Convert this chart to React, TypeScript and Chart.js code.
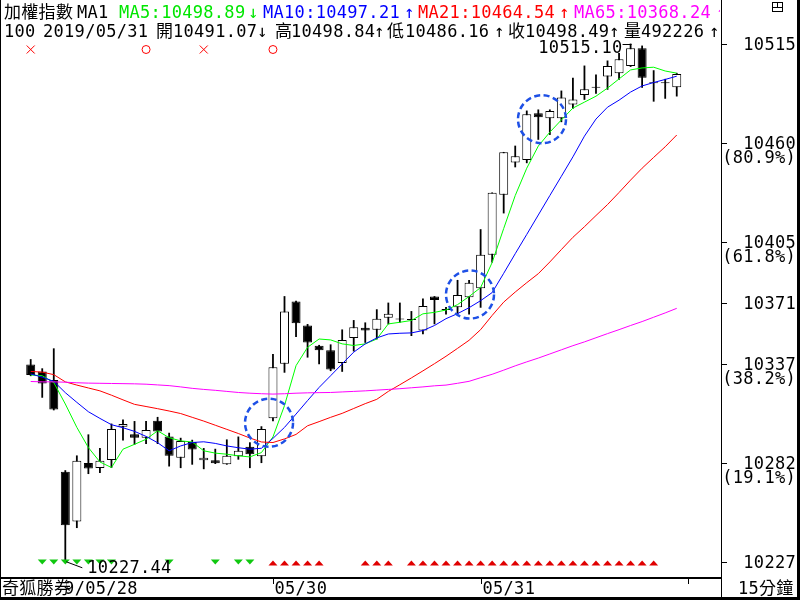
import React, { useEffect, useRef } from 'react';
import { Chart, registerables } from 'chart.js';

Chart.register(...registerables);

// ---------- data (15-minute bars, index 0..56) ----------
const opens = [
  10337.0, 10333.1, 10328.4, 10277.4, 10249.8, 10282.3, 10279.5, 10284.0, 10302.5, 10298.3,
  10296.4, 10305.8, 10297.0, 10285.3, 10294.0, 10283.8, 10283.8, 10281.6, 10286.1, 10291.3,
  10286.1, 10307.2, 10337.4, 10372.0, 10358.7, 10347.5, 10344.9, 10337.9, 10351.8, 10357.4,
  10356.3, 10363.0, 10362.1, 10361.8, 10355.9, 10374.8, 10367.3, 10368.8, 10374.4, 10379.4,
  10398.0, 10431.3, 10449.3, 10450.6, 10476.6, 10473.8, 10473.8, 10481.5, 10486.7, 10490.8,
  10497.0, 10498.9, 10502.9, 10512.7, 10493.3, 10493.3, 10491.07,
];
const highs = [
  10339.8, 10334.7, 10345.8, 10278.1, 10286.3, 10298.0, 10290.4, 10304.0, 10306.2, 10305.4,
  10305.4, 10307.7, 10298.9, 10296.1, 10295.0, 10290.4, 10290.0, 10295.2, 10296.8, 10293.6,
  10302.5, 10342.6, 10374.8, 10372.2, 10359.3, 10347.7, 10348.0, 10356.3, 10361.5, 10360.2,
  10367.5, 10371.2, 10371.2, 10366.5, 10373.5, 10374.8, 10368.7, 10383.8, 10383.8, 10412.0,
  10432.4, 10454.9, 10458.4, 10477.9, 10478.5, 10478.5, 10489.0, 10496.1, 10502.9, 10497.9,
  10505.7, 10509.9, 10515.10, 10514.0, 10500.3, 10495.5, 10498.84,
];
const lows = [
  10330.8, 10318.8, 10311.8, 10227.44, 10246.4, 10276.4, 10277.0, 10279.8, 10295.0, 10292.7,
  10293.1, 10293.1, 10280.6, 10279.7, 10281.6, 10279.1, 10282.0, 10281.6, 10284.4, 10279.7,
  10282.5, 10305.7, 10332.7, 10352.5, 10341.1, 10337.4, 10333.6, 10333.2, 10344.5, 10349.3,
  10351.2, 10359.6, 10360.5, 10353.1, 10354.0, 10359.6, 10365.1, 10365.1, 10365.1, 10368.8,
  10393.9, 10421.2, 10446.8, 10449.1, 10462.1, 10464.8, 10471.9, 10479.4, 10484.3, 10487.7,
  10489.9, 10495.5, 10502.6, 10491.0, 10483.3, 10484.9, 10486.16,
];
const closes = [
  10331.2, 10326.5, 10312.1, 10247.7, 10283.5, 10279.2, 10283.5, 10301.2, 10304.0, 10296.3,
  10300.6, 10299.8, 10286.4, 10294.6, 10289.8, 10285.3, 10282.2, 10286.3, 10289.1, 10287.2,
  10301.2, 10335.5, 10366.5, 10360.0, 10349.3, 10344.9, 10334.2, 10350.7, 10357.7, 10355.9,
  10362.5, 10365.2, 10362.1, 10362.0, 10369.6, 10372.9, 10367.3, 10375.7, 10382.5, 10398.0,
  10432.4, 10454.9, 10452.8, 10476.1, 10474.4, 10477.9, 10485.4, 10484.3, 10489.9, 10490.8,
  10502.9, 10506.6, 10512.7, 10496.4, 10493.3, 10493.6, 10498.49,
];
const ma5 = [
  10331.2, 10330.8, 10327.0, 10315.1, 10302.1, 10290.9, 10282.9, 10279.8, 10290.0, 10292.7,
  10295.5, 10300.2, 10296.4, 10294.6, 10294.0, 10289.1, 10287.8, 10287.2, 10286.3, 10285.7,
  10288.1, 10296.8, 10314.2, 10336.4, 10346.6, 10351.2, 10350.7, 10348.5, 10347.6, 10348.5,
  10351.2, 10359.6, 10360.5, 10361.5, 10365.2, 10366.0, 10367.3, 10370.3, 10374.8, 10379.8,
  10393.7, 10412.6, 10430.9, 10446.1, 10458.4, 10466.1, 10472.9, 10479.5, 10482.8, 10486.1,
  10490.6, 10495.7, 10500.7, 10501.8, 10502.2, 10500.1, 10498.89,
];
const ma10 = [
  10331.8, 10330.0, 10327.7, 10321.4, 10316.0, 10310.8, 10307.1, 10303.6, 10301.9, 10299.9,
  10297.1, 10293.6, 10289.1, 10291.8, 10293.7, 10294.1, 10293.2, 10291.8, 10290.8, 10290.0,
  10290.5, 10296.0, 10302.1, 10309.5, 10317.0, 10324.3, 10330.8, 10337.4, 10343.9, 10348.5,
  10351.8, 10354.0, 10354.4, 10354.6, 10355.9, 10358.7, 10362.5, 10365.3, 10368.6, 10372.5,
  10377.0, 10387.7, 10398.6, 10409.3, 10420.1, 10430.9, 10441.6, 10452.4, 10463.9, 10473.4,
  10480.0, 10483.9, 10488.4, 10491.8, 10493.7, 10495.4, 10497.21,
];
const ma21 = [
  10333.2, 10332.8, 10331.4, 10327.4, 10325.6, 10324.0, 10322.4, 10320.0, 10317.4, 10314.9,
  10313.7, 10312.5, 10311.2, 10309.8, 10307.7, 10305.6, 10303.3, 10301.0, 10298.7, 10296.2,
  10294.0, 10293.7, 10295.7, 10298.2, 10303.0, 10305.3, 10307.7, 10309.9, 10312.6, 10315.3,
  10317.7, 10322.1, 10325.8, 10329.6, 10333.5, 10337.5, 10341.6, 10346.0, 10350.5, 10356.4,
  10364.3, 10371.7, 10377.3, 10382.5, 10387.5, 10394.0, 10400.9, 10407.7, 10413.6, 10419.8,
  10425.9, 10432.6, 10439.5, 10446.1, 10452.1, 10458.0, 10464.54,
];
const ma65 = [
  10327.6, 10327.4, 10327.4, 10327.2, 10326.9, 10326.7, 10326.6, 10326.5, 10326.4, 10326.3,
  10326.1, 10325.7, 10325.3, 10324.6, 10323.8, 10323.2, 10322.7, 10322.1, 10321.5, 10321.1,
  10320.8, 10320.6, 10320.8, 10321.1, 10321.3, 10321.4, 10321.5, 10321.8, 10322.1, 10322.4,
  10322.8, 10323.2, 10323.6, 10324.1, 10324.6, 10325.2, 10325.6, 10326.6, 10327.7, 10329.7,
  10331.6, 10333.9, 10336.3, 10338.5, 10340.6, 10342.9, 10345.2, 10347.5, 10349.6, 10351.9,
  10354.2, 10356.4, 10358.7, 10360.9, 10363.3, 10365.7, 10368.24,
];
const lastVolume = 492226;
const lastDate = '2019/05/31';
const sellSignalIdx = [1, 2, 3, 4, 5, 6, 7, 12, 16, 18, 19];
const buySignalIdx = [
  21, 22, 23, 24, 25, 29, 30, 31, 33, 34, 35, 36, 37, 38, 39, 40, 41, 42, 43, 44,
  45, 46, 47, 48, 49, 50, 51, 52, 53, 54,
];
const crossMarkIdx = [0, 15];
const ringMarkIdx = [10, 21];
const focusIdx = [20.66, 38.08, 44.32];
const focusVal = [10304.7, 10375.9, 10473.3];
const dayTickIdx = [0, 21, 39, 57];
const dayLabels = ['2019/05/28', '05/30', '05/31', ''];
const fibValues = [10515.1, 10460.16, 10405.21, 10371.27, 10337.33, 10282.38, 10227.44];
const fibLabels = ['10515', '10460', '10405', '10371', '10337', '10282', '10227'];
const fibPcts = ['', '(80.9%)', '(61.8%)', '', '(38.2%)', '(19.1%)', ''];

// ---------- styles ----------
const GREEN = '#00ff00';
const GREEN_TXT = '#00e600';
const BLUE = '#0000ff';
const RED = '#ff0000';
const MAGENTA = '#ff00ff';
const FONT = "17px 'DejaVu Sans Mono', 'Noto Sans CJK TC', monospace";

const overlayPlugin = {
  id: 'overlay',
  beforeDraw(chart: any) {
    const ctx = chart.ctx;
    ctx.save();
    ctx.fillStyle = '#fff';
    ctx.fillRect(0, 0, chart.width, chart.height);
    ctx.restore();
  },
  afterDraw(chart: any) {
    const ctx = chart.ctx;
    const xs = chart.scales.x;
    const ys = chart.scales.y;
    const px = (i: number) => xs.getPixelForValue(i);
    const py = (v: number) => ys.getPixelForValue(v);
    const last = opens.length - 1;

    ctx.save();
    ctx.font = FONT;
    (ctx as any).letterSpacing = '0.3px';
    ctx.textBaseline = 'alphabetic';

    // header (clipped to plot width)
    ctx.save();
    ctx.beginPath();
    ctx.rect(0, 0, 720, 60);
    ctx.clip();
    const line1: [string, number, string][] = [
      ['加權指數', 4, '#000'],
      ['MA1', 77, '#000'],
      ['MA5:' + ma5[last].toFixed(2), 119, GREEN_TXT],
      ['↓', 248, GREEN_TXT],
      ['MA10:' + ma10[last].toFixed(2), 263, BLUE],
      ['↑', 404, BLUE],
      ['MA21:' + ma21[last].toFixed(2), 418, RED],
      ['↑', 559, RED],
      ['MA65:' + ma65[last].toFixed(2), 574, MAGENTA],
      ['↑', 716, MAGENTA],
    ];
    line1.forEach(([s, x, c]) => {
      ctx.fillStyle = c;
      ctx.textAlign = 'left';
      ctx.fillText(s, x, 18);
    });
    const line2: [string, number][] = [
      ['100', 4],
      [lastDate, 43],
      ['開', 156],
      [opens[last].toFixed(2), 173],
      ['↓', 257],
      ['高', 275],
      [highs[last].toFixed(2), 291],
      ['↑', 374],
      ['低', 387],
      [lows[last].toFixed(2), 405],
      ['↑', 494],
      ['收', 508],
      [closes[last].toFixed(2), 525],
      ['↑', 609],
      ['量', 624],
      [String(lastVolume), 641],
      ['↑', 709],
    ];
    ctx.fillStyle = '#000';
    line2.forEach(([s, x]) => ctx.fillText(s, x, 37));
    ctx.restore();

    // signal markers (top row)
    ctx.strokeStyle = RED;
    ctx.lineWidth = 1;
    crossMarkIdx.forEach((i) => {
      const cx = px(i);
      ctx.beginPath();
      ctx.moveTo(cx - 4, 45.5);
      ctx.lineTo(cx + 4, 53.5);
      ctx.moveTo(cx + 4, 45.5);
      ctx.lineTo(cx - 4, 53.5);
      ctx.stroke();
    });
    ringMarkIdx.forEach((i) => {
      ctx.beginPath();
      ctx.arc(px(i), 49.5, 4, 0, Math.PI * 2);
      ctx.stroke();
    });

    // signal triangles (bottom row)
    ctx.fillStyle = '#10c810';
    sellSignalIdx.forEach((i) => {
      const cx = px(i);
      ctx.beginPath();
      ctx.moveTo(cx - 4.5, 559.5);
      ctx.lineTo(cx + 4.5, 559.5);
      ctx.lineTo(cx, 564.5);
      ctx.closePath();
      ctx.fill();
    });
    ctx.fillStyle = '#e00000';
    buySignalIdx.forEach((i) => {
      const cx = px(i);
      ctx.beginPath();
      ctx.moveTo(cx, 560.5);
      ctx.lineTo(cx + 4.5, 565.5);
      ctx.lineTo(cx - 4.5, 565.5);
      ctx.closePath();
      ctx.fill();
    });

    // dashed focus circles
    ctx.save();
    ctx.strokeStyle = '#1e50e6';
    ctx.lineWidth = 2.5;
    ctx.setLineDash([6, 3.5]);
    focusIdx.forEach((fi, k) => {
      ctx.beginPath();
      ctx.arc(px(fi), py(focusVal[k]), 24, 0, Math.PI * 2);
      ctx.stroke();
    });
    ctx.restore();

    // high / low annotations
    let hi = 0;
    let lo = 0;
    highs.forEach((v, i) => { if (v > highs[hi]) hi = i; });
    lows.forEach((v, i) => { if (v < lows[lo]) lo = i; });
    ctx.strokeStyle = '#000';
    ctx.lineWidth = 1;
    const hx = px(hi);
    const hy = py(highs[hi]);
    ctx.beginPath();
    ctx.moveTo(hx - 8, Math.round(hy) + 0.5);
    ctx.lineTo(hx + 1, Math.round(hy) + 0.5);
    ctx.stroke();
    ctx.fillStyle = '#000';
    ctx.textAlign = 'right';
    ctx.fillText(highs[hi].toFixed(2), hx - 8, hy + 9);
    const lx = px(lo);
    const ly = py(lows[lo]);
    ctx.beginPath();
    ctx.moveTo(lx + 1, ly);
    ctx.lineTo(lx + 17, ly + 6);
    ctx.stroke();
    ctx.textAlign = 'left';
    ctx.fillText(lows[lo].toFixed(2), lx + 22, ly + 11);

    // frame & axes lines
    ctx.fillStyle = '#000';
    ctx.fillRect(0, 0, 1, 600);
    ctx.fillRect(721, 0, 1, 600);
    ctx.fillRect(0, 577, 721, 2);
    ctx.fillRect(0, 597, 800, 3);
    ctx.fillRect(797, 0, 3, 600);

    // right axis ticks & labels
    ctx.textAlign = 'right';
    fibValues.forEach((v, k) => {
      const ty = Math.round(py(v));
      ctx.fillRect(722, ty, 5, 1);
      ctx.fillText(fibLabels[k], 796, ty + 6);
      if (fibPcts[k]) ctx.fillText(fibPcts[k], 796, ty + 20);
    });

    // bottom axis ticks & labels
    ctx.textAlign = 'left';
    dayTickIdx.forEach((d, k) => {
      const tx = Math.round(px(d));
      ctx.fillRect(tx, 579, 1, 5);
      if (dayLabels[k]) ctx.fillText(dayLabels[k], tx + 1.5, 594);
    });
    ctx.fillStyle = '#fff';
    ctx.fillRect(1, 579, 65.5, 18);
    ctx.fillStyle = '#000';
    ctx.fillText('奇狐勝券', 2, 594);
    ctx.fillText('15分鐘', 738, 594);

    // small window icon at top right
    ctx.strokeStyle = '#000';
    ctx.lineWidth = 1;
    ctx.strokeRect(772.5, 2.5, 10, 9);
    ctx.beginPath();
    ctx.moveTo(772.5, 7.5);
    ctx.lineTo(782.5, 7.5);
    ctx.moveTo(777.5, 2.5);
    ctx.lineTo(777.5, 7.5);
    ctx.stroke();

    ctx.restore();
  },
};

export default function App() {
  const ref = useRef<HTMLCanvasElement>(null);

  useEffect(() => {
    const idx = opens.map((_, i) => i);
    const toXY = (arr: number[]) => arr.map((v, i) => ({ x: i, y: v }));
    const lineDs = (label: string, arr: number[], color: string) => ({
      type: 'line' as const,
      label,
      data: toXY(arr),
      borderColor: color,
      backgroundColor: color,
      borderWidth: 1,
      pointRadius: 0,
      tension: 0,
      fill: false,
      order: 0,
    });
    const chart = new Chart(ref.current as HTMLCanvasElement, {
      type: 'bar',
      data: {
        datasets: [
          lineDs('MA65', ma65, MAGENTA),
          lineDs('MA21', ma21, RED),
          lineDs('MA10', ma10, BLUE),
          lineDs('MA5', ma5, GREEN),
          {
            type: 'bar',
            label: 'body',
            data: idx.map((i) => ({ x: i, y: [opens[i], closes[i]] })) as any,
            backgroundColor: idx.map((i) => (closes[i] > opens[i] ? '#ffffff' : '#000000')),
            borderColor: '#000000',
            borderWidth: 1,
            borderSkipped: false,
            barThickness: 9,
            minBarLength: 1,
            grouped: false,
            inflateAmount: 0,
            order: 1,
          } as any,
          {
            type: 'bar',
            label: 'wick',
            data: idx.map((i) => ({ x: i, y: [lows[i], highs[i]] })) as any,
            backgroundColor: '#000000',
            borderWidth: 0,
            barThickness: 1,
            inflateAmount: 0.4,
            grouped: false,
            order: 2,
          } as any,
        ],
      },
      options: {
        animation: false,
        responsive: true,
        maintainAspectRatio: false,
        devicePixelRatio: 1,
        events: [],
        layout: { padding: 0 },
        plugins: {
          legend: { display: false },
          tooltip: { enabled: false },
          title: { display: false },
        },
        scales: {
          x: {
            type: 'linear',
            min: -2.661,
            max: 59.75,
            offset: false,
            grid: { display: false },
            border: { display: false },
            ticks: { display: false },
            afterFit: (s: any) => { s.height = 22; },
          },
          y: {
            type: 'linear',
            position: 'right',
            min: 10218.43,
            max: 10539.54,
            beginAtZero: false,
            grid: { display: false },
            border: { display: false },
            ticks: { display: false },
            afterFit: (s: any) => { s.width = 80; },
          },
        },
      } as any,
      plugins: [overlayPlugin],
    });
    return () => chart.destroy();
  }, []);

  return (
    <div style={{ position: 'fixed', left: 0, top: 0, width: 800, height: 600, background: '#fff' }}>
      <canvas ref={ref} />
    </div>
  );
}
